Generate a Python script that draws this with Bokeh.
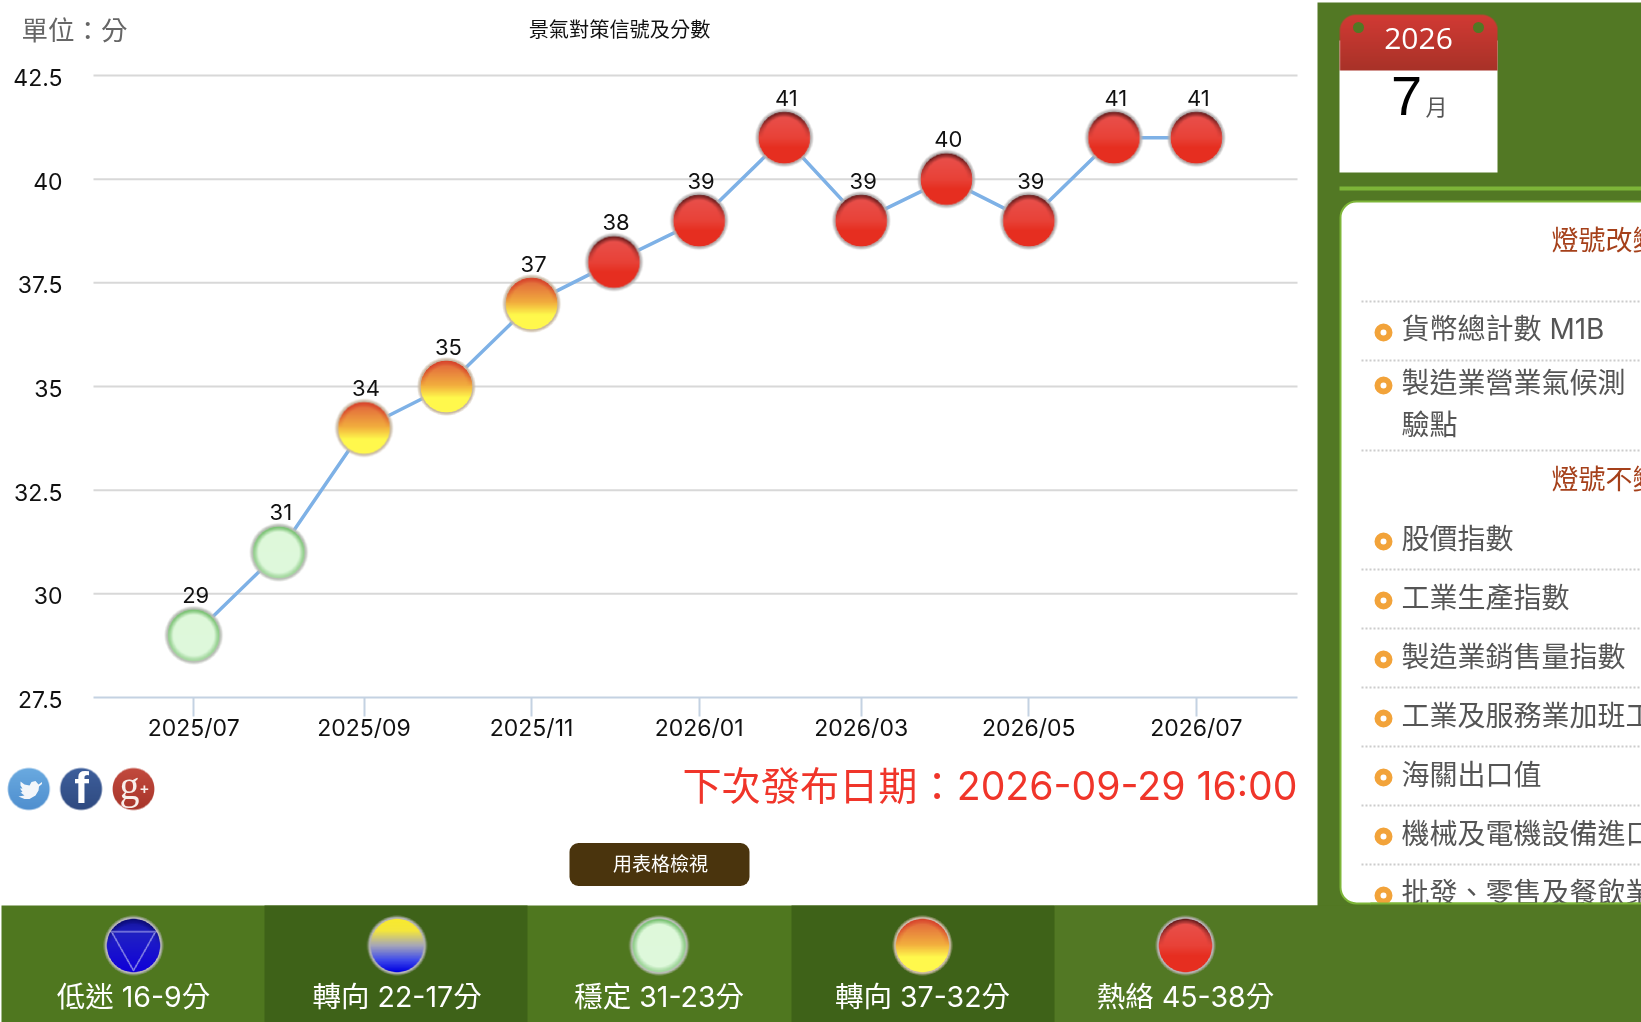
import numpy as np
from bokeh.plotting import figure
from bokeh.embed import file_html
from bokeh.resources import INLINE
from bokeh.core.properties import value
from bokeh.models import Range1d, LinearAxis, FixedTicker, BoxAnnotation

# ---------- data ----------
months = ["2025-07-01", "2025-08-01", "2025-09-01", "2025-10-01", "2025-11-01", "2025-12-01", "2026-01-01",
          "2026-02-01", "2026-03-01", "2026-04-01", "2026-05-01", "2026-06-01", "2026-07-01"]
scores = [29, 31, 34, 35, 37, 38, 39, 41, 39, 40, 39, 41, 41]
tick_months = ["2025-07-01", "2025-09-01", "2025-11-01", "2026-01-01", "2026-03-01", "2026-05-01", "2026-07-01"]
tick_labels = ["2025/07", "2025/09", "2025/11", "2026/01", "2026/03", "2026/05", "2026/07"]
y_ticks = [27.5, 30, 32.5, 35, 37.5, 40, 42.5]
y_tick_labels = ["27.5", "30", "32.5", "35", "37.5", "40", "42.5"]
title = "景氣對策信號及分數"
unit = "單位：分"
next_release = "下次發布日期：2026-09-29 16:00"
button_label = "用表格檢視"
legend_labels = ["低迷 16-9分", "轉向 22-17分", "穩定 31-23分", "轉向 37-32分", "熱絡 45-38分"]
changed_head = "燈號改變指標"
same_head = "燈號不變指標"
changed_items = ["貨幣總計數 M1B", "製造業營業氣候測", "驗點"]
same_items = ["股價指數", "工業生產指數", "製造業銷售量指數", "工業及服務業加班工時", "海關出口值",
              "機械及電機設備進口值", "批發、零售及餐飲業營業額"]

W, H = 1641, 1022
CJK = "Noto Sans CJK TC"
NUM = "Inter"
MIX = "Inter, 'Noto Sans CJK TC'"

# ---------- scales: page pixels <-> data ----------
def ms(d):
    return np.array(d, dtype="datetime64[ms]").astype("int64").astype(float)

DAY = 86400000.0
T0, PX0, PX_PER_DAY = ms("2025-07-01"), 193.2, 2.747
Y_TOP_PX, Y_BOT_PX = 75.0, 697.0
PX_PER_UNIT = (Y_BOT_PX - Y_TOP_PX) / 15.0

def x_of(px):
    return float(T0 + (px - PX0) / PX_PER_DAY * DAY)

def y_of(py):
    return 42.5 - (py - Y_TOP_PX) / PX_PER_UNIT

p = figure(width=W, height=H, x_axis_type=None, y_axis_type=None, toolbar_location=None,
           output_backend="svg", min_border=0, outline_line_color=None,
           x_range=Range1d(x_of(0), x_of(W)), y_range=Range1d(y_of(H), y_of(0)),
           styles={"position": "fixed", "left": "0px", "top": "0px"})
p.grid.visible = False
p.extra_x_ranges["px"] = Range1d(0, W)
p.extra_y_ranges["px"] = Range1d(H, 0)
p.extra_y_ranges["ylab"] = Range1d(y_of(H) + 2.0 / PX_PER_UNIT, y_of(0) + 2.0 / PX_PER_UNIT)
PX = dict(x_range_name="px", y_range_name="px")


def box(l, r, t, b, color, level="underlay", radius=None, line=None, lw=0):
    kw = {}
    if radius is not None:
        kw["border_radius"] = radius
    a = BoxAnnotation(left=l, right=r, top=t, bottom=b, fill_color=color, fill_alpha=1.0,
                      line_color=line, line_alpha=1.0 if line else 0.0, line_width=lw, level=level,
                      propagate_hover=False, editable=False, **PX, **kw)
    p.add_layout(a)


def label(text, x, y, size, color, font=CJK, align="left", style="normal", base="middle", **kw):
    p.text([x], [y], text=[text], text_font=value(font), text_font_size=f"{size}px", text_color=color,
           text_align=align, text_baseline=base, text_font_style=style, **PX, **kw)


# ---------- sprites ----------
def hex_rgb(h):
    return np.array([int(h[i:i + 2], 16) for i in (1, 3, 5)], float)


def ball(stops, rim="#b4b4b4", inner=0.86, green_rim=None, tri=False, crescent=None, soft=0.09, N=162):
    ax = (np.arange(N) + 0.5) / N * 2 - 1
    X, Y = np.meshgrid(ax, ax)          # row 0 is the top of the ball
    R = np.hypot(X, Y)
    pos = [s[0] for s in stops]
    cols = np.array([hex_rgb(s[1]) for s in stops])
    t = np.clip((Y + inner) / (2 * inner), 0, 1)
    rgb = np.dstack([np.interp(t, pos, cols[:, i]) for i in range(3)])
    if crescent:
        w = (np.clip((R - inner * 0.80) / (inner * 0.20), 0, 1) * np.clip(-Y * 1.5, 0, 1))[..., None]
        rgb = rgb * (1 - w) + hex_rgb(crescent) * w
    if green_rim:
        g = hex_rgb(green_rim)
        w = np.clip((R - inner * 0.80) / (inner * 0.17), 0, 1)[..., None] * (0.75 - 0.25 * Y[..., None])
        rgb = rgb * (1 - w) + g * w
    if tri:
        A, B, C = np.array([-.72, -.45]), np.array([.72, -.45]), np.array([0, .82])
        d = np.full(R.shape, 9.0)
        for a, b in ((A, B), (B, C), (C, A)):
            ab = b - a
            u = np.clip(((X - a[0]) * ab[0] + (Y - a[1]) * ab[1]) / (ab @ ab), 0, 1)
            d = np.minimum(d, np.hypot(X - a[0] - u * ab[0], Y - a[1] - u * ab[1]))
        w = np.clip(1 - d / 0.045, 0, 1)[..., None]
        rgb = rgb * (1 - w) + hex_rgb("#8f8fe6") * w
    rg = hex_rgb(rim)
    w = np.clip((R - inner) / 0.03, 0, 1)[..., None]
    rgb = rgb * (1 - w) + rg * w
    alpha = np.clip((1.0 - R) / soft, 0, 1) * 255
    out = np.zeros((N, N), dtype=np.uint32)
    v = out.view(np.uint8).reshape(N, N, 4)
    v[..., 0], v[..., 1], v[..., 2] = rgb[..., 0], rgb[..., 1], rgb[..., 2]
    v[..., 3] = alpha
    return out


def header_sprite(w, h, r, top, bottom):
    Y, X = np.mgrid[0:h * 2, 0:w * 2]
    X = (X + .5) / 2
    Y = (Y + .5) / 2
    f = (Y / h)[..., None]
    rgb = hex_rgb(top) * (1 - f) + hex_rgb(bottom) * f
    dx = np.maximum(np.maximum(r - X, X - (w - r)), 0)
    dy = np.maximum(r - Y, 0)
    a = np.clip(r + .5 - np.hypot(dx, dy), 0, 1) * 255
    out = np.zeros(X.shape, dtype=np.uint32)
    v = out.view(np.uint8).reshape(*X.shape, 4)
    v[..., 0], v[..., 1], v[..., 2] = rgb[..., 0], rgb[..., 1], rgb[..., 2]
    v[..., 3] = a
    return out


RED = [(0, "#e8524e"), (.5, "#e84238"), (.7, "#e62e20"), (1, "#e62e20")]
ORANGE = [(0, "#e0603c"), (.48, "#f2ae3e"), (.72, "#fff84c"), (1, "#fff84c")]
GREEN = [(0, "#def8da"), (1, "#def8dc")]
BLUEY = [(0, "#f8ea2e"), (.22, "#f4e63c"), (.5, "#a6a6b8"), (.76, "#4450ea"), (1, "#0000e2")]
NAVY = [(0, "#14149c"), (.3, "#2020c4"), (1, "#1000d8")]

sprite_red = ball(RED, rim="#b5b0b0", crescent="#6a1c1c")
sprite_orange = ball(ORANGE, rim="#c9b9a4", crescent="#d8452a")
sprite_green = ball(GREEN, rim="#b9bdb6", green_rim="#79c272")
sprite_bluey = ball(BLUEY, rim="#b4b4b4")
sprite_navy = ball(NAVY, rim="#b4b4b4", tri=True, crescent="#0c0c78")

# ---------- page furniture ----------
box(1317, W, 2, H, "#527824")                       # right column
box(1, W, 905, H, "#4f771f")                        # bottom band
box(1054, W, 905, H, "#527824")
for l, r in ((264, 527), (791, 1054)):
    box(l, r, 905, H, "#3e6218")
box(569, 749, 842.5, 885.5, "#4a340d", radius=9)    # button
box(1339, 1497, 40, 172, "#ffffff")                 # calendar sheet
box(1339, W, 186, 190, "#7db538")                   # divider
box(1340, W + 30, 201, 903, "#ffffff", radius=16, line="#7db538", lw=2)   # list panel

p.image_rgba(image=[header_sprite(158, 56, 16, "#d23a34", "#a83228")], x=[1418], y=[42], dw=158, dh=56,
             dw_units="screen", dh_units="screen", anchor="center", **PX)
p.circle(x=[1358, 1478], y=[27, 27], radius=5.5, radius_units="screen", fill_color="#527824", line_color=None, **PX)

label(unit, 21, 27.5, 26.5, "#666666")
label(title, 619, 28, 20.2, "#111111", align="center")
label(next_release, 1297, 785, 39.2, "#f0352a", align="right", font=MIX)
label(button_label, 660, 862, 19, "#ffffff", align="center")
label("2026", 1418, 38, 30, "#ffffff", font="Open Sans", align="center")
label("7", 1406, 95, 56, "#000000", font="Liberation Sans", align="center")
label("月", 1436, 104, 22, "#555555", align="center")

# list panel
seps = [301, 360, 450, 569, 628, 687, 746, 805, 864]
p.segment(x0=[1361] * len(seps), x1=[W] * len(seps), y0=seps, y1=seps, line_color="#cccccc", line_width=2,
          line_dash="2 2", **PX)
label(changed_head, 1551, 238, 27, "#a5401a")
label(same_head, 1551, 477, 27, "#a5401a")
for t, y in zip(changed_items, [328, 382, 424]):
    label(t, 1401, y, 28, "#555555", font=MIX)
for t, y in zip(same_items, [538, 597, 656, 715, 774, 833, 892]):
    label(t, 1401, y, 28, "#555555", font=MIX)
bul_y = [332, 385, 541, 600, 659, 718, 777, 836, 895]
p.scatter(x=[1383] * len(bul_y), y=bul_y, size=12, marker="circle", fill_color="#ffffff",
          line_color="#f2a33a", line_width=6, **PX)
box(1370, W, 902, 905, "#7db538", level="guide")    # clips the last list row
box(1370, W, 904, H, "#527824", level="guide")

# social icons
for cx, stops in ((28.3, [(0, "#6aaae0"), (1, "#4f8fcf")]), (80.6, [(0, "#3e5f9c"), (1, "#2f4a80")]),
                  (133, [(0, "#c24a3e"), (1, "#a8352a")])):
    p.image_rgba(image=[ball(stops, rim=stops[1][1], inner=0.97, soft=0.05)], x=[cx], y=[788.5], dw=43, dh=43,
                 dw_units="screen", dh_units="screen", anchor="center", **PX)
bird_x = [41.5, 38, 35, 31, 29, 24, 20, 20, 22, 19.5, 22, 20, 24, 18, 24, 29, 35, 38, 38.5, 41.5]
bird_y = [781.5, 784, 780.5, 781.5, 785, 784, 781, 785, 788, 788, 791.5, 792, 795, 796, 798.5, 798.5, 795, 790, 786, 783.5]
p.patch(x=bird_x, y=bird_y, fill_color="#f2f6fa", line_color=None, **PX)
label("f", 81, 787, 44, "#ffffff", font="Liberation Sans", align="center", style="bold")
label("g", 129, 785, 40, "#f8eeea", font="Liberation Serif", align="center")
label("+", 144, 788, 15, "#f8eeea", font="Liberation Sans", align="center", style="bold")

# legend band
for cx, sp, txt in zip([133, 396.6, 658.6, 922, 1185],
                       [sprite_navy, sprite_bluey, sprite_green, sprite_orange, sprite_red], legend_labels):
    p.image_rgba(image=[sp], x=[cx], y=[945], dw=61, dh=61, dw_units="screen", dh_units="screen",
                 anchor="center", **PX)
    label(txt, cx, 996, 28.5, "#ffffff", align="center", font=MIX)

# ---------- chart ----------
xs = ms(months)
ys = np.array(scores, float)
XL, XR = x_of(93), x_of(1297)
p.segment(x0=[XL] * 6, x1=[XR] * 6, y0=y_ticks[1:], y1=y_ticks[1:], line_color="#d8d8d8", line_width=2)
p.line(xs, ys, line_color="#7eb1e6", line_width=3.5)

bands = [(38, 99, sprite_red, "#e62e20"), (32, 37, sprite_orange, "#f5b040"), (23, 31, sprite_green, "#def8dc")]
for lo, hi, sp, col in bands:
    m = (ys >= lo) & (ys <= hi)
    p.scatter(xs[m], ys[m], size=46, marker="circle", fill_color=col, line_color=None)
    # this plot's y range grows upward, so the first image row is the bottom one
    p.image_rgba(image=[sp[::-1]] * int(m.sum()), x=xs[m], y=ys[m], dw=59, dh=59, dw_units="screen", dh_units="screen",
                 anchor="center")
p.text(xs, ys, text=[str(s) for s in scores], text_font=value(NUM), text_font_size="22px", text_color="#111111",
       text_align="center", text_baseline="alphabetic", x_offset=2, y_offset=-40)

xax = LinearAxis(ticker=FixedTicker(ticks=[float(ms(m)) for m in tick_months]),
                 major_label_overrides={int(ms(m)): t for m, t in zip(tick_months, tick_labels)},
                 fixed_location=27.5, bounds=(XL, XR), axis_line_color="#c4d2e2", axis_line_width=2,
                 major_tick_line_color="#c4d2e2", major_tick_line_width=2, major_tick_in=0, major_tick_out=19,
                 minor_tick_line_color=None, major_label_standoff=-3, major_label_text_font=NUM,
                 major_label_text_font_size="23px", major_label_text_color="#111111")
p.add_layout(xax, "below")

yax = LinearAxis(ticker=FixedTicker(ticks=y_ticks), y_range_name="ylab",
                 major_label_overrides={t: l for t, l in zip(y_ticks, y_tick_labels)},
                 fixed_location=XL, axis_line_color=None, major_tick_line_color=None, minor_tick_line_color=None,
                 major_label_standoff=25, major_label_text_font=NUM, major_label_text_font_size="23px",
                 major_label_text_color="#111111")
p.add_layout(yax, "left")

open("out.html", "w").write(file_html(p, INLINE))
